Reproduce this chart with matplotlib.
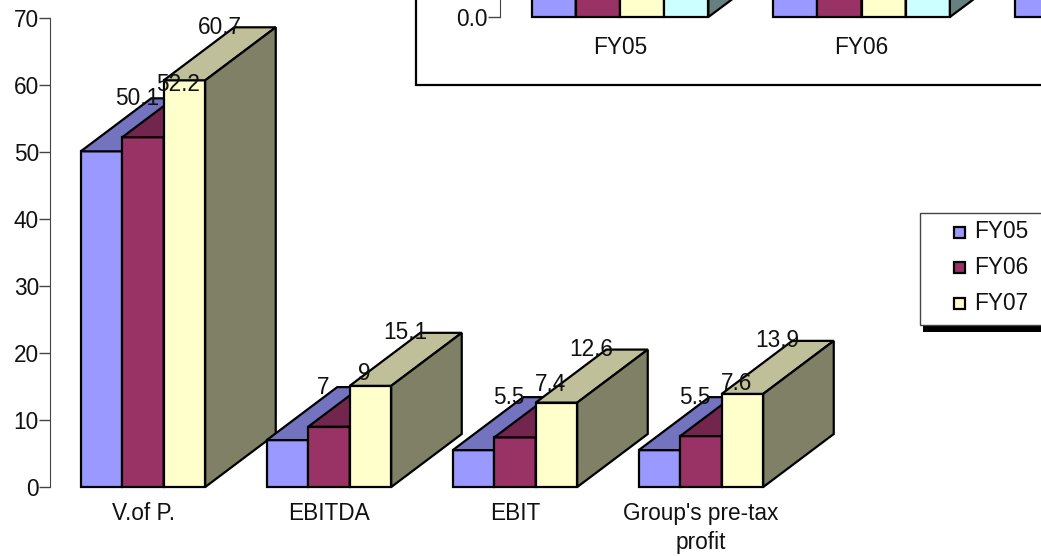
import matplotlib

matplotlib.use("Agg")

import matplotlib.pyplot as plt
from matplotlib.colors import to_rgb
from matplotlib.patches import Polygon, Rectangle

plt.rcParams["font.family"] = ["Liberation Sans", "DejaVu Sans"]

categories = ["V.of P.", "EBITDA", "EBIT", "Group's pre-tax\nprofit"]
fy05 = [50.1, 7, 5.5, 5.5]
fy06 = [52.2, 9, 7.4, 7.6]
fy07 = [60.7, 15.1, 12.6, 13.9]
y_ticks = [0, 10, 20, 30, 40, 50, 60, 70]
series_names = ["FY05", "FY06", "FY07"]

# upper chart, only the foot of its bars is visible in the picture
inset_categories = ["FY05", "FY06", "FY07"]
inset_a = [5.0, 5.0, 5.0]
inset_b = [5.0, 5.0, 5.0]
inset_c = [5.0, 5.0, 5.0]
inset_d = [5.0, 5.0, 5.0]

BLUE = "#9999ff"
MAROON = "#993366"
CREAM = "#ffffcc"
CYAN = "#ccffff"
FONT = 16.3
W, H = 1041, 556


def shade(color, k):
    return tuple(c * k for c in to_rgb(color))


def bar3d(ax, x, w, h, color, dx, dy):
    style = dict(edgecolor="black", linewidth=1.6, clip_on=False, joinstyle="miter")
    ax.add_patch(Rectangle((x, 0), w, h, facecolor=color, **style))
    ax.add_patch(
        Polygon(
            [(x, h), (x + w, h), (x + w + dx, h + dy), (x + dx, h + dy)],
            facecolor=shade(color, 0.75),
            **style,
        )
    )
    ax.add_patch(
        Polygon(
            [(x + w, 0), (x + w + dx, dy), (x + w + dx, h + dy), (x + w, h)],
            facecolor=shade(color, 0.5),
            **style,
        )
    )


def px_axes(fig, left, right, top, bottom):
    return fig.add_axes([left / W, 1 - bottom / H, (right - left) / W, (bottom - top) / H])


fig = plt.figure(figsize=(W / 100, H / 100), dpi=100)

# main chart, x unit = one category (186 px)
ax = px_axes(fig, 50, W, 18, 487)
ax.set_zorder(1)
unit = 186.0
bar_w = 41.5 / unit
dx = 70.5 / unit
dy = 53 / (469 / 70)

for i in range(len(categories)):
    for j, (vals, color) in enumerate(zip([fy05, fy06, fy07], [BLUE, MAROON, CREAM])):
        x = i + (j - 1.5) * bar_w
        bar3d(ax, x, bar_w, vals[i], color, dx, dy)
        ax.text(
            x + bar_w / 2 + dx / 2,
            vals[i] + dy,
            f"{vals[i]:g}",
            ha="center",
            va="center",
            fontsize=FONT,
            color="#111111",
            zorder=6,
            clip_on=False,
        )

ax.set_xticks(range(len(categories)))
ax.set_xticklabels(categories, fontsize=FONT, color="#111111", linespacing=1.33)
ax.set_yticks(y_ticks)
ax.set_xlim((50 - 143) / unit, (W - 143) / unit)
ax.set_ylim(0, 70)
ax.tick_params(axis="x", length=0, pad=11)
ax.tick_params(axis="y", length=8, width=1, color="#444444", labelsize=FONT, labelcolor="#111111", pad=0)
for side in ["top", "right", "bottom"]:
    ax.spines[side].set_visible(False)
ax.spines["left"].set_color("#444444")
ax.patch.set_alpha(0)

# overlay in pixel coordinates for the inset frame and legend
over = fig.add_axes([0, 0, 1, 1])
over.set_zorder(2)
over.set_xlim(0, W)
over.set_ylim(H, 0)
over.axis("off")
over.add_patch(Rectangle((415.5, -5), 700, 90, facecolor="white", edgecolor="black", linewidth=1.6))
over.add_patch(Rectangle((923, 325), 130, 7, facecolor="black", edgecolor="none"))
over.add_patch(Rectangle((919.5, 213), 130, 112, facecolor="white", edgecolor="#444444", linewidth=1))
for name, color, y in zip(series_names, [BLUE, MAROON, CREAM], [232, 267, 303.5]):
    over.add_patch(Rectangle((953.5, y - 5.5), 11, 11, facecolor=color, edgecolor="black", linewidth=1.6))
    over.text(974, y, name, fontsize=FONT, color="#111111", va="center", ha="left")

# inset chart, cut off by the top and right edge of the figure
inset = px_axes(fig, 500, W, 0, 17)
inset.set_zorder(3)
inset_unit = 241.5
inset_w = 44.2 / inset_unit
inset_dx = 71 / inset_unit
inset_dy = 53 / 17
for i in range(len(inset_categories)):
    groups = [inset_a, inset_b, inset_c, inset_d]
    for j, (vals, color) in enumerate(zip(groups, [BLUE, MAROON, CREAM, CYAN])):
        bar3d(inset, i + (j - 2) * inset_w, inset_w, vals[i], color, inset_dx, inset_dy)
inset.set_xticks(range(len(inset_categories)))
inset.set_xticklabels(inset_categories, fontsize=FONT, color="#111111")
inset.set_yticks([0])
inset.set_yticklabels(["0.0"])
inset.set_xlim((500 - 620) / inset_unit, (W - 620) / inset_unit)
inset.set_ylim(0, 1)
inset.tick_params(axis="x", length=0, pad=14)
inset.tick_params(axis="y", length=9, width=1, color="#444444", labelsize=FONT, labelcolor="#111111", pad=0)
for side in ["top", "right", "bottom"]:
    inset.spines[side].set_visible(False)
inset.spines["left"].set_color("#444444")
inset.patch.set_alpha(0)

fig.savefig("out.png", dpi=100)
